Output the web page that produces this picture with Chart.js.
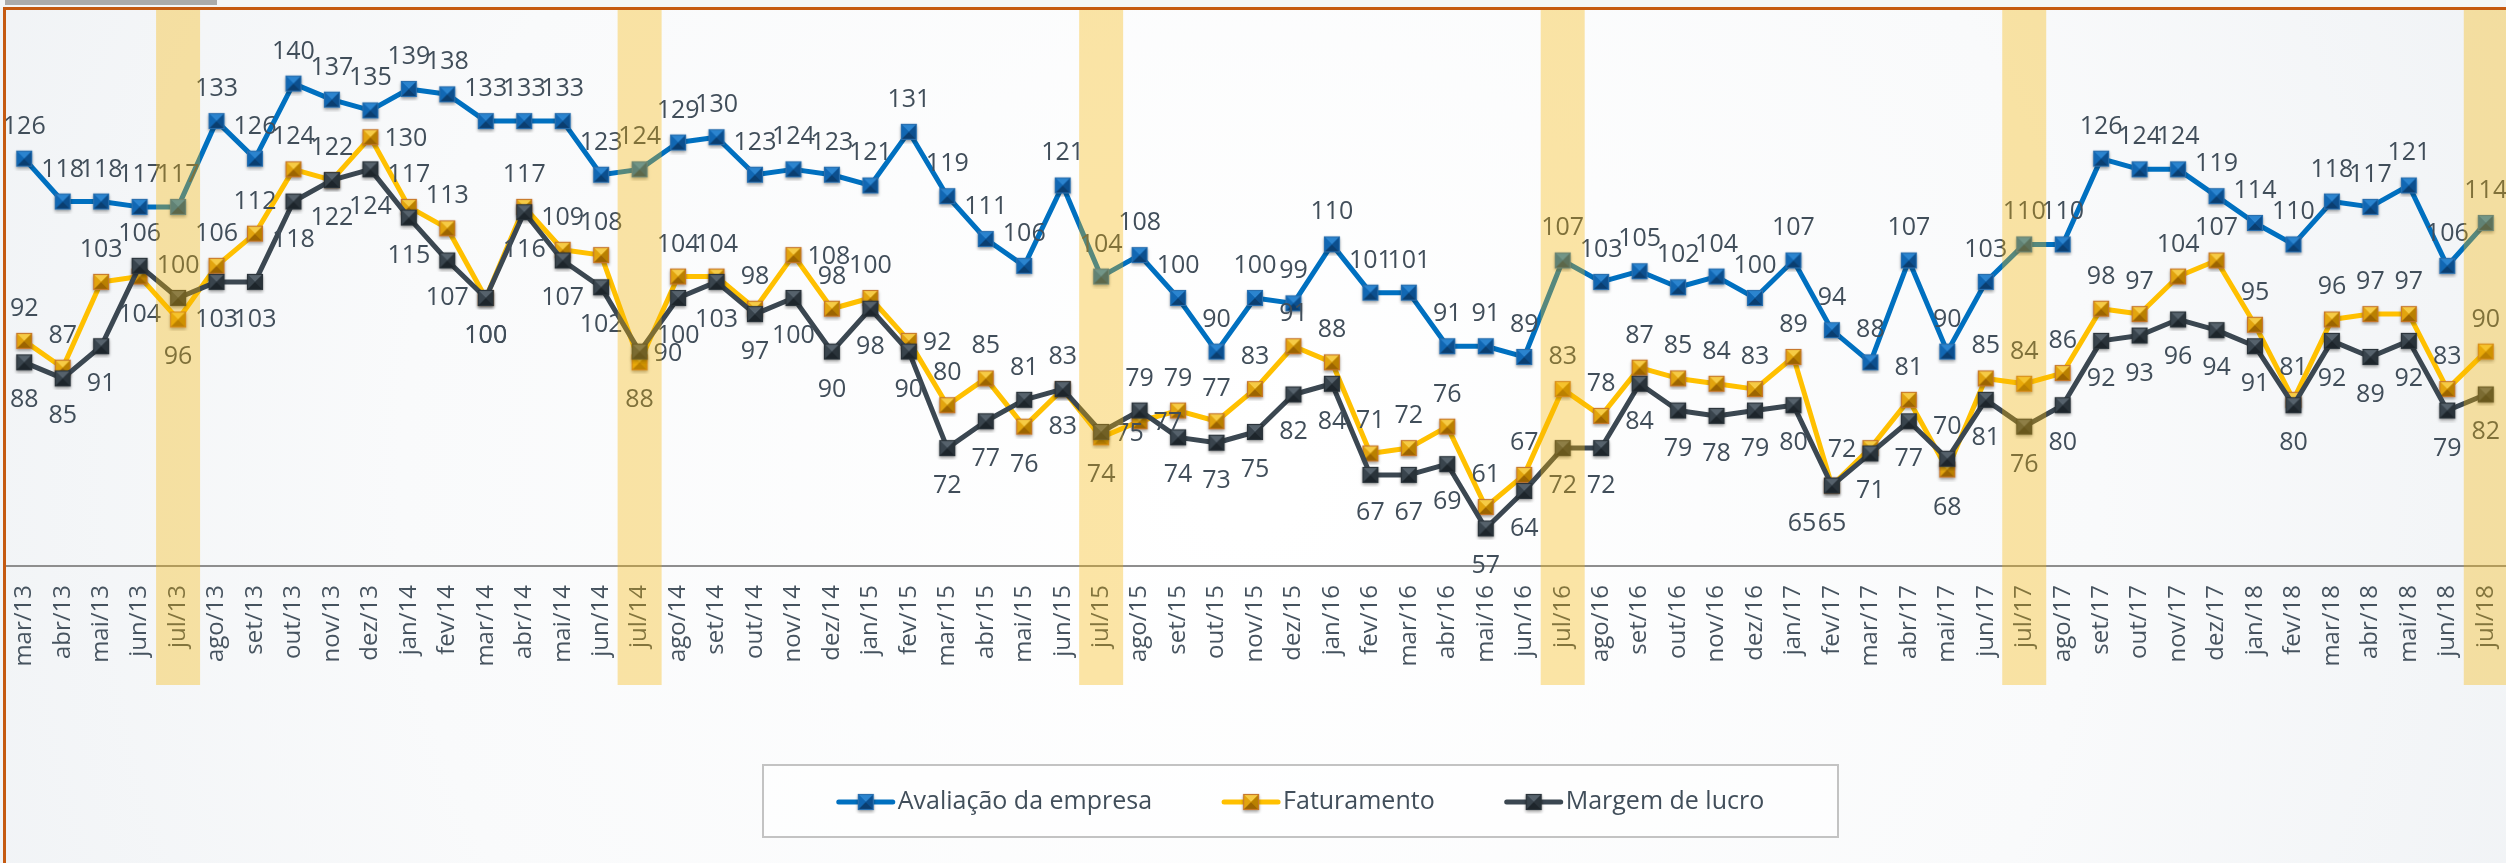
<!DOCTYPE html>
<html>
<head>
<meta charset="utf-8">
<script src="https://cdn.jsdelivr.net/npm/chart.js@4/dist/chart.umd.min.js"></script>
<style>
html,body{margin:0;padding:0;background:#ffffff;}
canvas{display:block;}
</style>
</head>
<body>
<canvas id="c" width="2506" height="863"></canvas>
<script>
const categories = [
  'mar/13','abr/13','mai/13','jun/13','jul/13','ago/13','set/13','out/13','nov/13','dez/13',
  'jan/14','fev/14','mar/14','abr/14','mai/14','jun/14','jul/14','ago/14','set/14','out/14','nov/14','dez/14',
  'jan/15','fev/15','mar/15','abr/15','mai/15','jun/15','jul/15','ago/15','set/15','out/15','nov/15','dez/15',
  'jan/16','fev/16','mar/16','abr/16','mai/16','jun/16','jul/16','ago/16','set/16','out/16','nov/16','dez/16',
  'jan/17','fev/17','mar/17','abr/17','mai/17','jun/17','jul/17','ago/17','set/17','out/17','nov/17','dez/17',
  'jan/18','fev/18','mar/18','abr/18','mai/18','jun/18','jul/18'
];
const avaliacao = [
  126,118,118,117,117,133,126,140,137,135,
  139,138,133,133,133,123,124,129,130,123,124,123,
  121,131,119,111,106,121,104,108,100,90,100,99,
  110,101,101,91,91,89,107,103,105,102,104,100,
  107,94,88,107,90,103,110,110,126,124,124,119,
  114,110,118,117,121,106,114
];
const faturamento = [
  92,87,103,104,96,106,112,124,122,130,
  117,113,100,117,109,108,88,104,104,98,108,98,
  100,92,80,85,76,83,74,77,79,77,83,91,
  88,71,72,76,61,67,83,78,87,85,84,83,
  89,65,72,81,68,85,84,86,98,97,104,107,
  95,81,96,97,97,83,90
];
const margem = [
  88,85,91,106,100,103,103,118,122,124,
  115,107,100,116,107,102,90,100,103,97,100,90,
  98,90,72,77,81,83,75,79,74,73,75,82,
  84,67,67,69,57,64,72,72,84,79,78,79,
  80,65,71,77,70,81,76,80,92,93,96,94,
  91,80,92,89,92,79,82
];
const highlighted = ['jul/13','jul/14','jul/15','jul/16','jul/17','jul/18'];
const seriesNames = ['Avaliação da empresa','Faturamento','Margem de lucro'];

const FONT = '"Open Sans", "DejaVu Sans", sans-serif';
const TEXT_COLOR = '#414E5A';

// label placement relative to its point (default per series, with exceptions)
const labelDefault = ['above', 'above', 'below'];
const labelExceptions = [
  {},
  { 'jun/13':'below', 'jul/13':'below', 'dez/13':'right', 'mar/14':'below', 'jul/14':'below',
    'nov/14':'right', 'fev/15':'right', 'mai/15':'below', 'jun/15':'below', 'jul/15':'below',
    'ago/15':'right', 'fev/17':'belowleft', 'mar/17':'left', 'mai/17':'below' },
  { 'jun/13':'above', 'jul/13':'above', 'jul/14':'right', 'mai/15':'above', 'jun/15':'above',
    'jul/15':'right', 'ago/15':'above', 'mai/17':'above' }
];

function makeMarker(base, light, dark, side, edge) {
  const s = 24, m = 16;
  const c = document.createElement('canvas');
  c.width = s; c.height = s;
  const g = c.getContext('2d');
  const o = (s - m) / 2, cx = s / 2, cy = s / 2;
  g.save();
  g.shadowColor = 'rgba(0,0,0,0.35)';
  g.shadowBlur = 3;
  g.shadowOffsetY = 2;
  g.fillStyle = base;
  g.fillRect(o, o, m, m);
  g.restore();
  const tri = (a, b, col) => {
    g.beginPath(); g.moveTo(a[0], a[1]); g.lineTo(b[0], b[1]); g.lineTo(cx, cy); g.closePath();
    g.fillStyle = col; g.fill();
  };
  tri([o, o], [o + m, o], light);
  tri([o, o], [o, o + m], base);
  tri([o + m, o], [o + m, o + m], side);
  tri([o, o + m], [o + m, o + m], dark);
  g.strokeStyle = edge; g.lineWidth = 1.2;
  g.strokeRect(o + 0.5, o + 0.5, m - 1, m - 1);
  return c;
}

const markers = [
  makeMarker('#1167B3', '#2B84CF', '#0A3E70', '#0C4F8E', '#2A6FAE'),
  makeMarker('#E2A40E', '#F6CB45', '#9C6400', '#B98000', '#C7782C'),
  makeMarker('#39444D', '#56626C', '#1D252B', '#2A333A', '#2B343B')
];
const lineColors = ['#0070C0', '#FFC000', '#3B4751'];

const bgPlugin = {
  id: 'bg',
  beforeDraw(chart) {
    const ctx = chart.ctx, W = chart.width, H = chart.height;
    ctx.save();
    const grd = ctx.createRadialGradient(1250, 480, 50, 1250, 480, 1500);
    grd.addColorStop(0, '#FFFFFF');
    grd.addColorStop(0.55, '#F9FAFB');
    grd.addColorStop(1, '#EEF1F4');
    ctx.fillStyle = grd;
    ctx.fillRect(0, 0, W, H);
    ctx.fillStyle = '#F4F6F8';
    ctx.fillRect(0, 0, W, 7);
    ctx.fillStyle = '#ABABAB';
    ctx.fillRect(5, 0, 212, 5);
    ctx.restore();
  }
};

const labelPlugin = {
  id: 'pointLabels',
  afterDatasetsDraw(chart) {
    const ctx = chart.ctx;
    ctx.save();
    ctx.font = '25px ' + FONT;
    ctx.fillStyle = TEXT_COLOR;
    ctx.textBaseline = 'alphabetic';
    chart.data.datasets.forEach((ds, di) => {
      const meta = chart.getDatasetMeta(di);
      meta.data.forEach((pt, i) => {
        const place = labelExceptions[di][categories[i]] || labelDefault[di];
        let x = pt.x, y = pt.y, align = 'center';
        if (place === 'above') { y -= 25; }
        else if (place === 'below') { y += 45; }
        else if (place === 'right') { x += 14; y += 9; align = 'left'; }
        else if (place === 'left') { x -= 14; y += 9; align = 'right'; }
        else if (place === 'belowleft') { x -= 30; y += 45; }
        ctx.textAlign = align;
        ctx.fillText(String(ds.data[i]), x, y);
      });
    });
    ctx.restore();
  }
};

const overlayPlugin = {
  id: 'overlay',
  afterDraw(chart) {
    const ctx = chart.ctx, xs = chart.scales.x;
    ctx.save();
    ctx.fillStyle = 'rgba(245,180,0,0.35)';
    highlighted.forEach(lbl => {
      const i = categories.indexOf(lbl);
      const x = xs.getPixelForValue(i);
      ctx.fillRect(x - 22, 7, 44, 678);
    });
    ctx.fillStyle = '#C55A11';
    ctx.fillRect(3, 7, chart.width, 3);
    ctx.fillRect(3, 7, 3, chart.height);
    ctx.font = '25px ' + FONT;
    const lineLen = 58, gapText = 3, gapItem = 70;
    const widths = seriesNames.map(n => ctx.measureText(n).width);
    let total = 0;
    widths.forEach(w => total += lineLen + gapText + w);
    total += gapItem * (seriesNames.length - 1);
    const boxL = 763, boxR = 1838, boxT = 765, boxB = 837;
    ctx.fillStyle = 'rgba(255,255,255,0.55)';
    ctx.fillRect(boxL, boxT, boxR - boxL, boxB - boxT);
    ctx.strokeStyle = '#C3C3C3';
    ctx.lineWidth = 2;
    ctx.strokeRect(boxL, boxT, boxR - boxL, boxB - boxT);
    let x = (boxL + boxR) / 2 - total / 2;
    const ly = 802;
    seriesNames.forEach((n, k) => {
      ctx.strokeStyle = lineColors[k];
      ctx.lineWidth = 5;
      ctx.lineCap = 'round';
      ctx.beginPath(); ctx.moveTo(x + 2, ly); ctx.lineTo(x + lineLen - 2, ly); ctx.stroke();
      const mk = markers[k];
      ctx.drawImage(mk, x + lineLen / 2 - mk.width / 2, ly - mk.height / 2);
      ctx.fillStyle = TEXT_COLOR;
      ctx.textAlign = 'left';
      ctx.textBaseline = 'middle';
      ctx.fillText(n, x + lineLen + gapText, ly);
      x += lineLen + gapText + widths[k] + gapItem;
    });
    ctx.restore();
  }
};

const seriesData = [avaliacao, faturamento, margem];
const datasets = seriesData.map((d, k) => ({
  label: seriesNames[k],
  data: d,
  borderColor: lineColors[k],
  backgroundColor: lineColors[k],
  borderWidth: 5,
  borderJoinStyle: 'round',
  tension: 0,
  pointStyle: markers[k],
  pointRadius: 8,
  pointHoverRadius: 8,
  fill: false,
  order: 3 - k
}));

new Chart(document.getElementById('c'), {
  type: 'line',
  data: { labels: categories, datasets },
  options: {
    responsive: false,
    animation: false,
    devicePixelRatio: 1,
    layout: { autoPadding: false, padding: { left: 5, right: 1, top: 30, bottom: 0 } },
    plugins: {
      legend: { display: false },
      tooltip: { enabled: false },
      title: { display: false }
    },
    scales: {
      x: {
        offset: true,
        grid: { display: false, drawTicks: false },
        border: { display: true, color: '#8E8E8E', width: 2 },
        ticks: {
          autoSkip: false,
          maxRotation: 90,
          minRotation: 90,
          padding: 19,
          color: '#46535F',
          font: { family: FONT, size: 24 }
        },
        afterFit(scale) {
          scale.height = 297;
          scale.paddingLeft = 0;
          scale.paddingRight = 0;
        }
      },
      y: { display: false, min: 50, max: 150 }
    }
  },
  plugins: [bgPlugin, labelPlugin, overlayPlugin]
});
</script>
</body>
</html>
